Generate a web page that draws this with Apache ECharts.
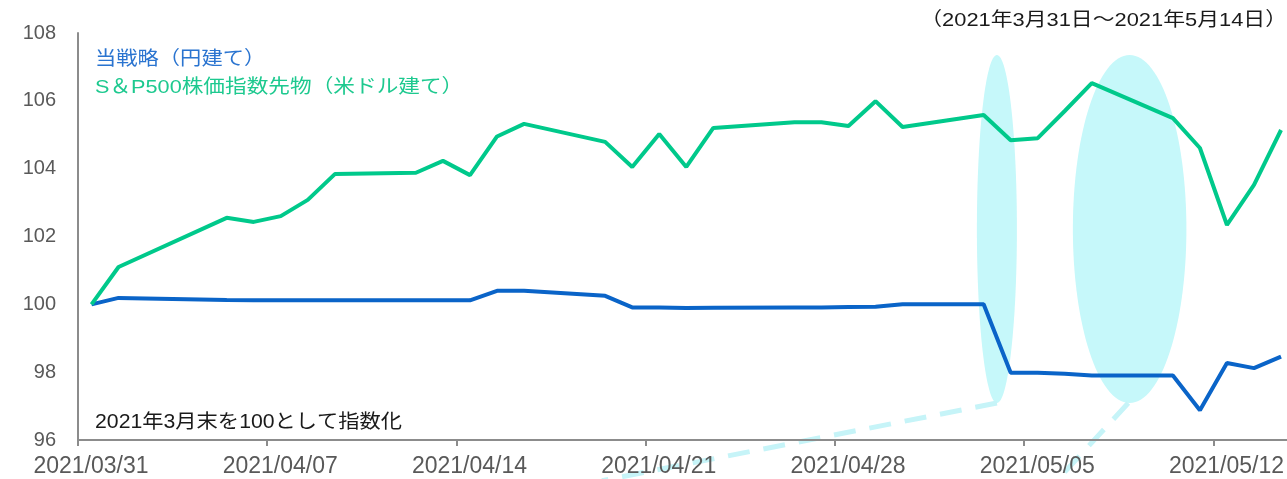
<!DOCTYPE html>
<html><head><meta charset="utf-8">
<script src="https://cdn.jsdelivr.net/npm/echarts@6/dist/echarts.min.js"></script>
<style>html,body{margin:0;padding:0;background:#fff}#c{width:1287px;height:479px}</style>
</head><body><div id="c"></div>
<script>
const dates = ['2021/03/31','2021/04/01','2021/04/05','2021/04/06','2021/04/07','2021/04/08','2021/04/09',
  '2021/04/12','2021/04/13','2021/04/14','2021/04/15','2021/04/16','2021/04/19','2021/04/20','2021/04/21',
  '2021/04/22','2021/04/23','2021/04/26','2021/04/27','2021/04/28','2021/04/29','2021/04/30','2021/05/03',
  '2021/05/04','2021/05/05','2021/05/06','2021/05/07','2021/05/10','2021/05/11','2021/05/12','2021/05/13','2021/05/14'];
const strategy = [100.00,100.19,100.13,100.12,100.12,100.12,100.12,100.12,100.12,100.12,100.40,100.40,100.25,99.91,99.91,
  99.89,99.90,99.91,99.91,99.92,99.93,100.00,100.00,97.98,97.98,97.95,97.90,97.90,96.88,98.27,98.12,98.46];
const sp500 = [100.00,101.10,102.55,102.43,102.60,103.08,103.84,103.88,104.23,103.81,104.95,105.32,104.79,104.05,105.02,
  104.05,105.20,105.37,105.37,105.26,105.99,105.23,105.58,104.84,104.90,105.70,106.52,105.49,104.61,102.34,103.52,105.14];
const seriesNames = ['当戦略（円建て）','S＆P500株価指数先物（米ドル建て）'];
const subtitle = '（2021年3月31日～2021年5月14日）';
const note = '2021年3月末を100として指数化';
const startDate = '2021/03/31';
const axisDays = 44.7;   // visible part of the date axis
const yMin = 96, yMax = 108, yStep = 2, xStep = 7;

function dayOf(s){const p=s.split('/').map(Number);return Date.UTC(p[0],p[1]-1,p[2])/86400000;}
const d0 = dayOf(startDate);
function fmt(v){const d=new Date((d0+v)*86400000);const m=String(d.getUTCMonth()+1).padStart(2,'0');const dd=String(d.getUTCDate()).padStart(2,'0');return d.getUTCFullYear()+'/'+m+'/'+dd;}
const xs = dates.map(s => dayOf(s) - d0 + 0.5);
const blueData = xs.map((x,i)=>[x,strategy[i]]);
const greenData = xs.map((x,i)=>[x,sp500[i]]);

const FONT = '"Liberation Sans","Noto Sans CJK JP",sans-serif';
const chart = echarts.init(document.getElementById('c'));
chart.setOption({
  animation:false,
  grid:{left:78, top:33, right:0, height:407, containLabel:false},
  xAxis:{type:'value', min:0, max:axisDays, interval:xStep,
    axisLine:{show:true, lineStyle:{color:'#8c8c8c', width:2}},
    axisTick:{show:true, length:6, lineStyle:{color:'#8c8c8c', width:2}},
    splitLine:{show:false},
    axisLabel:{formatter:fmt, color:'#595959', fontSize:23, fontFamily:FONT, margin:15, padding:[0,0,0,26], showMaxLabel:false}},
  yAxis:{type:'value', min:yMin, max:yMax, interval:yStep,
    axisLine:{show:true, lineStyle:{color:'#8c8c8c', width:2}},
    axisTick:{show:false}, splitLine:{show:false},
    axisLabel:{color:'#595959', fontSize:20, fontFamily:FONT, margin:22}},
  series:[
    {name:seriesNames[0], type:'line', data:blueData, showSymbol:false, z:3, lineStyle:{color:'#0a64c8', width:4}, itemStyle:{color:'#0a64c8'}},
    {name:seriesNames[1], type:'line', data:greenData, showSymbol:false, z:3, lineStyle:{color:'#00c98b', width:4}, itemStyle:{color:'#00c98b'}}
  ]
});

// annotation shapes placed in data space
function px(x,y){return chart.convertToPixel({gridIndex:0},[x,y]);}
function ellipse(cx,cy,rxDays,ryVal){
  const c=px(cx,cy), e=px(cx+rxDays,cy+ryVal);
  return {type:'ellipse', z:0, silent:true, shape:{cx:c[0], cy:c[1], rx:Math.abs(e[0]-c[0]), ry:Math.abs(c[1]-e[1])}, style:{fill:'#c6f8fa'}};
}
function dashed(x1,y1,x2,y2){
  const a=px(x1,y1), b=px(x2,y2);
  return {type:'line', z:0, silent:true, shape:{x1:a[0],y1:a[1],x2:b[0],y2:b[1]}, style:{stroke:'#c6f4f8', lineWidth:5, lineDash:[22,14]}};
}
function label(txt, x, y, color, size, sx, align){
  return {type:'text', x:x, y:y, z:5, scaleX:sx, silent:true,
    style:{text:txt, fill:color, font:size+'px '+FONT, textAlign:align||'left', textVerticalAlign:'middle'}};
}
const e1 = ellipse(33.99, 102.22, 0.74, 5.13);
const e2 = ellipse(38.9, 102.22, 2.1, 5.13);
const bottomVal = 102.22 - 5.13;
chart.setOption({graphic:[
  e1, e2,
  dashed(33.99, bottomVal, 19.38, 94.8),
  dashed(38.85, bottomVal, 36.2, 94.8),
  label(seriesNames[0], 95, 60, '#2a74d0', 19, 1.12),
  label(seriesNames[1], 95, 88, '#1dc98f', 19, 1.14),
  label(note, 95, 423, '#1a1a1a', 19.5, 1.09),
  label(subtitle, 1287, 21, '#1a1a1a', 19, 1.15, 'right')
]});
</script></body></html>
